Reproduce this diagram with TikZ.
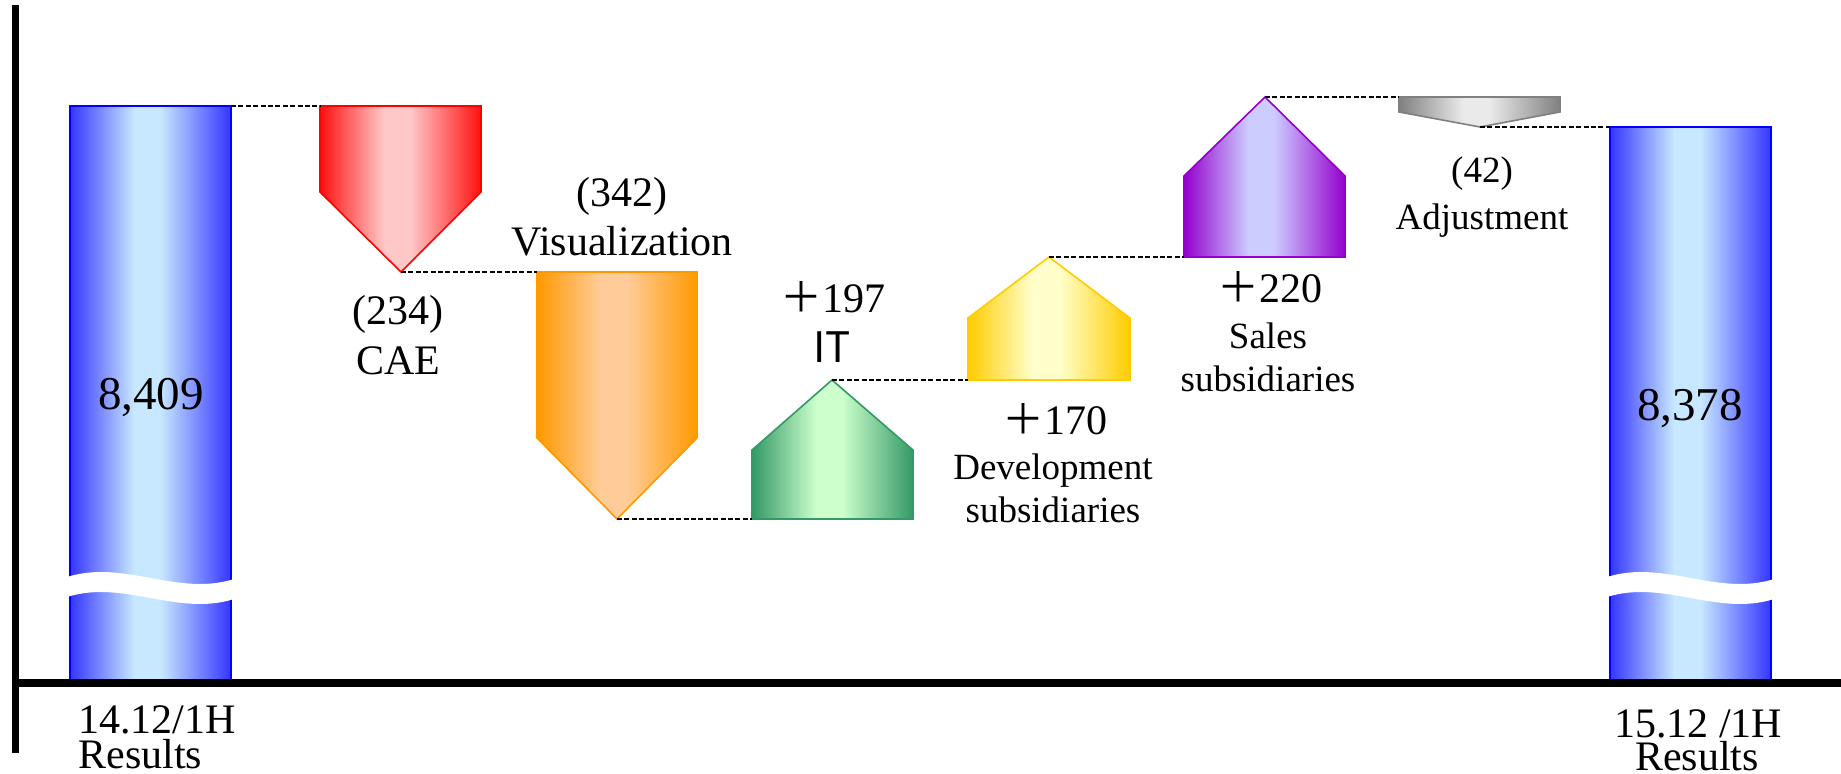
\documentclass[tikz,border=0pt]{standalone}
\usepackage{fontspec}
\setmainfont{Liberation Serif}
\newfontfamily\cjkfont{Noto Sans CJK JP}

% colours of the bars and steps: edge tone, light centre tone, outline
\definecolor{blueEdge}{HTML}{3535FF}
\definecolor{blueMid}{HTML}{C8E8FF}
\definecolor{blueLine}{HTML}{0000FF}
\definecolor{redEdge}{HTML}{FF1010}
\definecolor{redMid}{HTML}{FFC8C8}
\definecolor{redLine}{HTML}{FF0000}
\definecolor{orangeEdge}{HTML}{FF9900}
\definecolor{orangeMid}{HTML}{FFCC99}
\definecolor{greenEdge}{HTML}{339966}
\definecolor{greenMid}{HTML}{CCFFCC}
\definecolor{yellowEdge}{HTML}{FFCC00}
\definecolor{yellowMid}{HTML}{FFFFCC}
\definecolor{purpleEdge}{HTML}{9400CC}
\definecolor{purpleMid}{HTML}{CCCCFF}
\definecolor{grayEdge}{HTML}{808080}
\definecolor{grayMid}{HTML}{EAEAEA}

% left-to-right shading: saturated sides, light band near the middle
\colorlet{pillaredge}{blue}
\colorlet{pillarmid}{white}
\pgfdeclarehorizontalshading[pillaredge,pillarmid]{pillar}{100bp}{%
  color(0bp)=(pillaredge); color(25bp)=(pillaredge);
  color(45bp)=(pillarmid); color(53bp)=(pillarmid);
  color(75bp)=(pillaredge); color(100bp)=(pillaredge)}

\tikzset{
  barfill/.style n args={3}{shading=pillar, draw=#1, line width=0.8pt,
    /utils/exec={\colorlet{pillaredge}{#2}\colorlet{pillarmid}{#3}}},
  linkline/.style={draw=black, line width=0.9pt, dash pattern=on 2.5pt off 1.2pt},
  axisline/.style={draw=black, line cap=butt},
  bignum/.style={font=\fontsize{23.5pt}{28pt}\selectfont, anchor=base, inner sep=0pt},
  lbl/.style={font=\fontsize{21pt}{25pt}\selectfont, anchor=base, inner sep=0pt},
  smalllbl/.style={font=\fontsize{18.5pt}{22pt}\selectfont, anchor=base, inner sep=0pt},
}

\begin{document}
\begin{tikzpicture}[x=0.5pt,y=-0.5pt]
\useasboundingbox (0,0) rectangle (1841,774);

% ---- key points ----
\coordinate (L-bl) at (70,681);   \coordinate (L-tr) at (231,106);
\coordinate (R-bl) at (1610,681); \coordinate (R-tr) at (1771,127);
\coordinate (R-tl) at (1610,127);

\coordinate (cae-tl) at (320,106);  \coordinate (cae-tip) at (401,272);
\coordinate (vis-tl) at (537,272);  \coordinate (vis-tip) at (617,519);
\coordinate (it-bl) at (752,519);   \coordinate (it-apex) at (832,380);
\coordinate (dev-bl) at (968,380);  \coordinate (dev-apex) at (1049,257);
\coordinate (sal-bl) at (1184,257); \coordinate (sal-apex) at (1265,97);
\coordinate (adj-tl) at (1399,97);  \coordinate (adj-tip) at (1480,127);

% ---- start and end bars ----
\shadedraw[barfill={blueLine}{blueEdge}{blueMid}] (L-bl) rectangle (L-tr);
\shadedraw[barfill={blueLine}{blueEdge}{blueMid}] (R-bl) rectangle (R-tr);

% wavy break in each bar
\foreach \bx in {70,1610}{
  \begin{scope}[shift={(\bx,0)}]
    \fill[white] (-3,577) .. controls (54,559) and (107,597) .. (164,579)
      -- (164,599) .. controls (107,617) and (54,579) .. (-3,597) -- cycle;
  \end{scope}
}

% ---- decreases (arrow-down steps) ----
\shadedraw[barfill={redLine}{redEdge}{redMid}]
  (cae-tl) -- (481,106) -- (481,192) -- (cae-tip) -- (320,192) -- cycle;
\shadedraw[barfill={orangeEdge}{orangeEdge}{orangeMid}]
  (vis-tl) -- (697,272) -- (697,438) -- (vis-tip) -- (537,438) -- cycle;
\shadedraw[barfill={grayEdge}{grayEdge}{grayMid}]
  (adj-tl) -- (1560,97) -- (1560,112) -- (adj-tip) -- (1399,112) -- cycle;

% ---- increases (arrow-up steps) ----
\shadedraw[barfill={greenEdge}{greenEdge}{greenMid}]
  (it-bl) -- (913,519) -- (913,450) -- (it-apex) -- (752,450) -- cycle;
\shadedraw[barfill={yellowEdge}{yellowEdge}{yellowMid}]
  (dev-bl) -- (1130,380) -- (1130,318) -- (dev-apex) -- (968,318) -- cycle;
\shadedraw[barfill={purpleEdge}{purpleEdge}{purpleMid}]
  (sal-bl) -- (1345,257) -- (1345,176) -- (sal-apex) -- (1184,176) -- cycle;

% ---- dashed level connectors ----
\draw[linkline] (L-tr) -- (cae-tl);
\draw[linkline] (cae-tip) -- (vis-tl);
\draw[linkline] (vis-tip) -- (it-bl);
\draw[linkline] (it-apex) -- (dev-bl);
\draw[linkline] (dev-apex) -- (sal-bl);
\draw[linkline] (sal-apex) -- (adj-tl);
\draw[linkline] (adj-tip) -- (R-tl);

% ---- axes ----
\coordinate (ax-top) at (15.5,5);
\coordinate (ax-bot) at (15.5,753);
\coordinate (ax-left) at (12,683);
\coordinate (ax-right) at (1841,683);
\draw[axisline, line width=3.5pt] (ax-top) -- (ax-bot);
\draw[axisline, line width=4pt] (ax-left) -- (ax-right);

% ---- labels ----
\node[bignum] (val-start) at (151,410) {8,409};
\node[bignum] (val-end) at (1690,421) {8,378};

\node[lbl] (cae-val) at (398,325) {(234)};
\node[lbl] (cae-name) at (398,375) {CAE};

\node[lbl] (vis-val) at (622,207) {(342)};
\node[lbl] (vis-name) at (622,256) {Visualization};

\node[lbl] (it-val) at (833,313) {{\cjkfont ＋}197};
\node[lbl] (it-name) at (832,363) {\cjkfont IT};

\node[lbl] (dev-val) at (1055,435) {{\cjkfont ＋}170};
\node[smalllbl] (dev-name) at (1053,480) {Development};
\node[smalllbl] (dev-name2) at (1053,523) {subsidiaries};

\node[lbl] (sal-val) at (1270,303) {{\cjkfont ＋}220};
\node[smalllbl] (sal-name) at (1268,349) {Sales};
\node[smalllbl] (sal-name2) at (1268,392) {subsidiaries};

\node[smalllbl] (adj-val) at (1482,183) {(42)};
\node[smalllbl] (adj-name) at (1482,230) {Adjustment};

\node[lbl, anchor=base west] (start-date) at (78,733) {14.12/1H};
\node[lbl, anchor=base west] (start-kind) at (78,768) {Results};
\node[lbl] (end-date) at (1698,737) {15.12 /1H};
\node[lbl] (end-kind) at (1697,770) {Results};
\end{tikzpicture}
\end{document}
